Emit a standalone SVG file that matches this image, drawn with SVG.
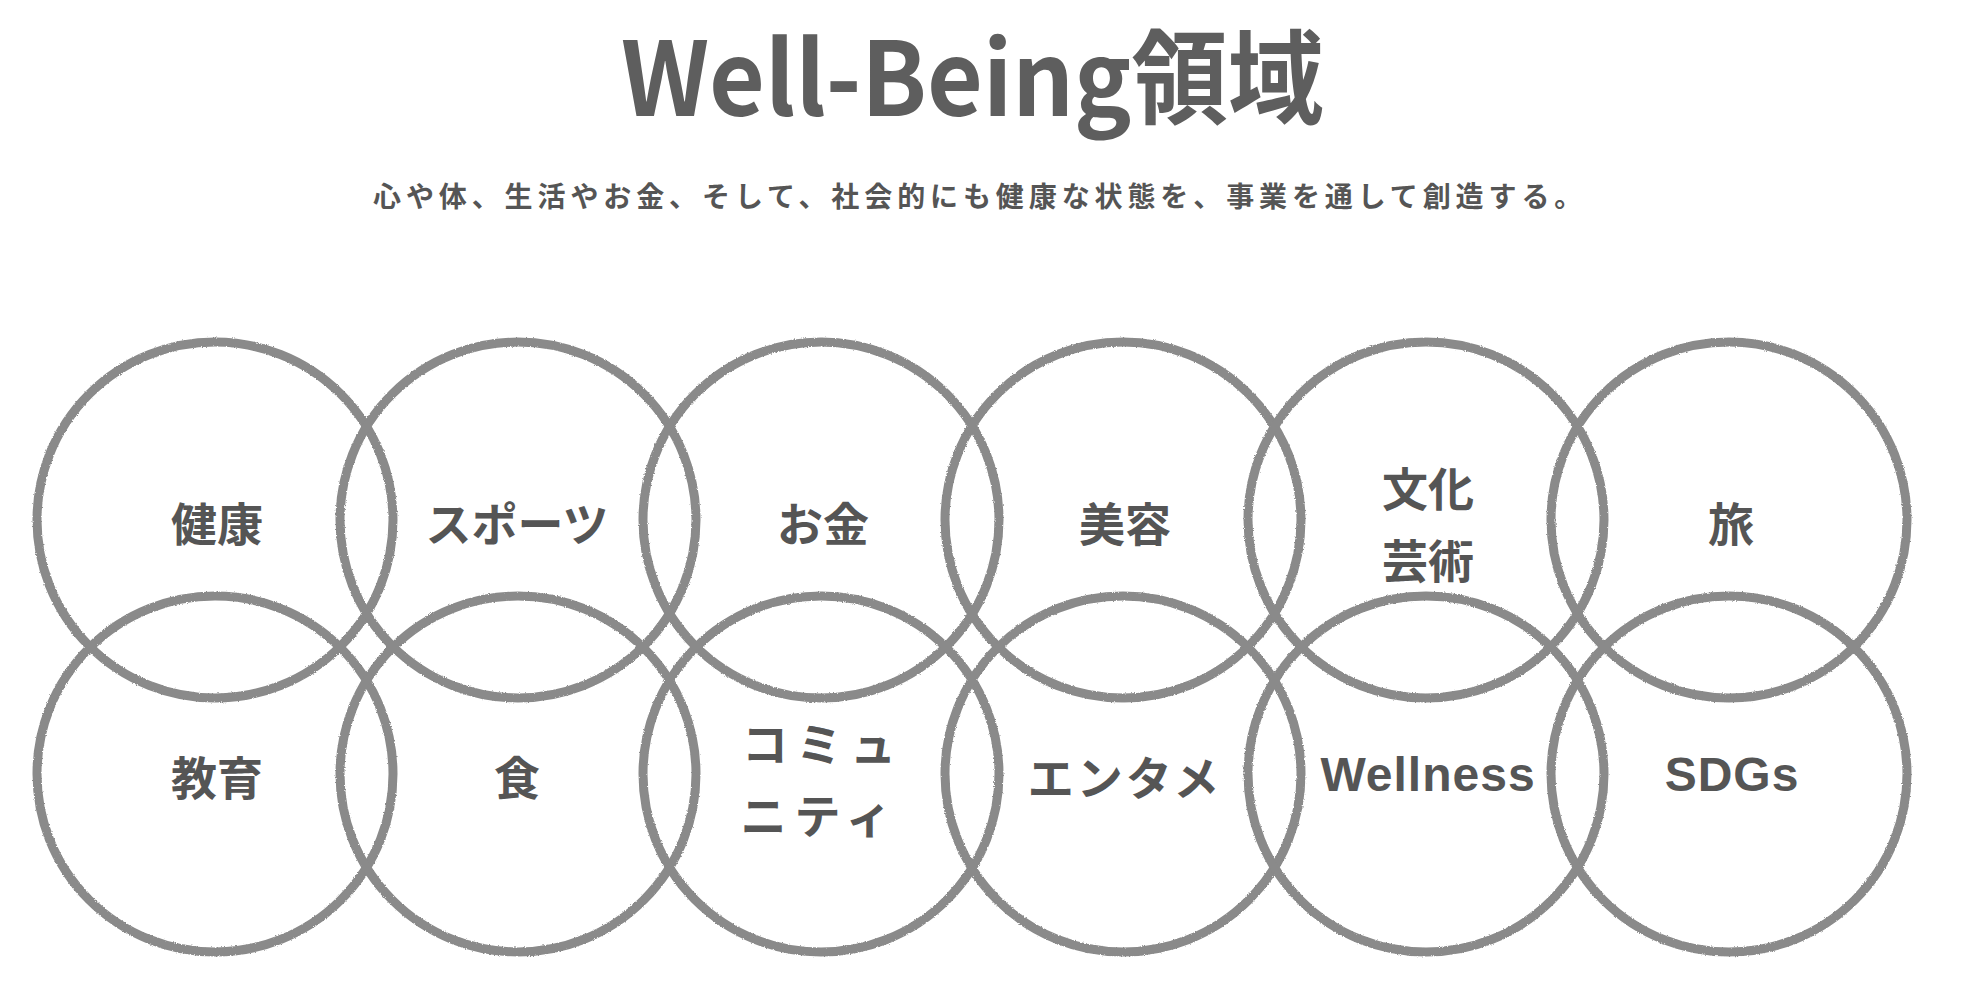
<svg xmlns="http://www.w3.org/2000/svg" width="1963" height="983" viewBox="0 0 1963 983">
<defs>
<filter id="rough" x="-5%" y="-5%" width="110%" height="110%">
<feTurbulence type="fractalNoise" baseFrequency="0.9" numOctaves="2" seed="3" result="n"/>
<feDisplacementMap in="SourceGraphic" in2="n" scale="2.5" xChannelSelector="R" yChannelSelector="G"/>
</filter>
</defs>
<style>
.ring{fill:none;stroke:#8a8a8a;stroke-width:9;filter:url(#rough)}
.lbl{font-family:"Noto Sans CJK JP","Noto Sans",sans-serif;font-weight:700;font-size:46px;fill:#555;text-anchor:middle;dominant-baseline:central}
.lat{font-family:"Liberation Sans",Arial,sans-serif;font-weight:700;font-size:48px;fill:#555;text-anchor:middle;dominant-baseline:central;letter-spacing:1px}
.title{font-family:"Noto Sans CJK JP","Noto Sans",sans-serif;font-weight:700;font-size:102px;fill:#5e5e5e}
.sub{font-family:"Noto Sans CJK JP",sans-serif;font-weight:700;font-size:28px;fill:#555;letter-spacing:4.9px}
</style>
<rect width="1963" height="983" fill="#ffffff"/>
<g id="header">
<text class="title" x="621" y="116" textLength="703" lengthAdjust="spacingAndGlyphs">Well-Being領域</text>
<text class="sub" x="373" y="207">心や体、生活やお金、そして、社会的にも健康な状態を、事業を通して創造する。</text>
</g>
<g id="connectors"/>
<g id="node-kenkou"><circle class="ring" cx="215" cy="520" r="178"/><text class="lbl" x="217" y="521">健康</text></g>
<g id="node-sports"><circle class="ring" cx="518" cy="520" r="178"/><text class="lbl" x="517" y="521">スポーツ</text></g>
<g id="node-okane"><circle class="ring" cx="821" cy="520" r="178"/><text class="lbl" x="823" y="521">お金</text></g>
<g id="node-biyou"><circle class="ring" cx="1123" cy="520" r="178"/><text class="lbl" x="1125" y="521">美容</text></g>
<g id="node-bunka"><circle class="ring" cx="1426" cy="520" r="178"/><text class="lbl" x="1428" y="486">文化</text><text class="lbl" x="1428" y="558">芸術</text></g>
<g id="node-tabi"><circle class="ring" cx="1729" cy="520" r="178"/><text class="lbl" x="1731" y="521">旅</text></g>
<g id="node-kyouiku"><circle class="ring" cx="215" cy="774" r="178"/><text class="lbl" x="217" y="775">教育</text></g>
<g id="node-shoku"><circle class="ring" cx="518" cy="774" r="178"/><text class="lbl" x="517" y="775">食</text></g>
<g id="node-community"><circle class="ring" cx="821" cy="774" r="178"/><text class="lbl" x="823" y="741" letter-spacing="8">コミュ</text><text class="lbl" x="820" y="813" letter-spacing="8">ニティ</text></g>
<g id="node-entame"><circle class="ring" cx="1123" cy="774" r="178"/><text class="lbl" x="1125" y="775" letter-spacing="3">エンタメ</text></g>
<g id="node-wellness"><circle class="ring" cx="1426" cy="774" r="178"/><text class="lat" x="1428" y="774">Wellness</text></g>
<g id="node-sdgs"><circle class="ring" cx="1729" cy="774" r="178"/><text class="lat" x="1732" y="774">SDGs</text></g>
</svg>
